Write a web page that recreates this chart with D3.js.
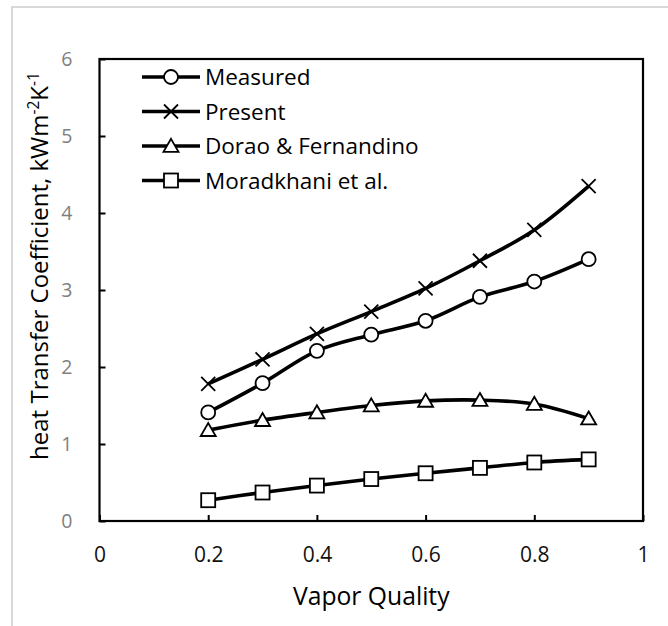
<!DOCTYPE html>
<html>
<head>
<meta charset="utf-8">
<script src="https://cdn.jsdelivr.net/npm/d3@7/dist/d3.min.js"></script>
<style>
  html, body { margin: 0; padding: 0; background: #fff; }
  svg { display: block; font-family: "Open Sans", sans-serif; }
</style>
</head>
<body>
<svg id="chart" width="668" height="626"></svg>
<script>
const quality = [0.2, 0.3, 0.4, 0.5, 0.6, 0.7, 0.8, 0.9];
const measured = [1.41, 1.79, 2.21, 2.42, 2.60, 2.91, 3.11, 3.40];
const present = [1.78, 2.10, 2.43, 2.72, 3.02, 3.38, 3.78, 4.35];
const dorao = [1.18, 1.31, 1.41, 1.50, 1.56, 1.57, 1.52, 1.33];
const moradkhani = [0.27, 0.37, 0.46, 0.545, 0.62, 0.69, 0.76, 0.80];
const seriesNames = ["Measured", "Present", "Dorao & Fernandino", "Moradkhani et al."];
const markerTypes = ["circle", "cross", "triangle", "square"];
const xTicks = [0, 0.2, 0.4, 0.6, 0.8, 1];
const xTickLabels = ["0", "0.2", "0.4", "0.6", "0.8", "1"];
const yTicks = [0, 1, 2, 3, 4, 5, 6];
const yTickLabels = ["0", "1", "2", "3", "4", "5", "6"];

const seriesValues = [measured, present, dorao, moradkhani];

const svg = d3.select("#chart");
const L = 99.5, R = 643, T = 59, B = 521;
const x = d3.scaleLinear().domain([0, 1]).range([L, R]);
const y = d3.scaleLinear().domain([0, 6]).range([B, T]);

// outer chart border
svg.append("rect").attr("x", 12).attr("y", 7).attr("width", 700).attr("height", 700)
  .attr("fill", "none").attr("stroke", "#d9d9d9").attr("stroke-width", 2);

// x axis
const xAxis = svg.append("g").attr("transform", `translate(0,${B})`)
  .call(d3.axisBottom(x).tickValues(xTicks).tickFormat((d, i) => xTickLabels[i]).tickSizeInner(-6).tickSizeOuter(0).tickPadding(26));
xAxis.select(".domain").remove();
xAxis.selectAll("line").attr("stroke", "#000").attr("stroke-width", 2);
xAxis.selectAll("text").attr("font-size", 21).attr("fill", "#111").attr("font-family", "Open Sans");

// y axis
const yAxis = svg.append("g").attr("transform", `translate(${L},0)`)
  .call(d3.axisLeft(y).tickValues(yTicks).tickFormat((d, i) => yTickLabels[i]).tickSizeInner(-6).tickSizeOuter(0).tickPadding(27));
yAxis.select(".domain").remove();
yAxis.selectAll("line").attr("stroke", "#000").attr("stroke-width", 2);
yAxis.selectAll("text").attr("font-size", 19.5).attr("fill", "#808080").attr("font-family", "Open Sans");

// frame
svg.append("rect").attr("x", L).attr("y", T).attr("width", R - L).attr("height", B - T)
  .attr("fill", "none").attr("stroke", "#000").attr("stroke-width", 2.2);

// lines
const line = d3.line().x(d => x(d[0])).y(d => y(d[1])).curve(d3.curveCatmullRom.alpha(0.5));

function drawMarker(g, type, cx, cy) {
  if (type === "circle") {
    g.append("circle").attr("cx", cx).attr("cy", cy).attr("r", 7)
      .attr("fill", "#fff").attr("stroke", "#000").attr("stroke-width", 1.8);
  } else if (type === "cross") {
    const s = 7;
    g.append("path").attr("d", `M${cx - s},${cy - s}L${cx + s},${cy + s}M${cx - s},${cy + s}L${cx + s},${cy - s}`)
      .attr("stroke", "#000").attr("stroke-width", 1.8).attr("fill", "none");
  } else if (type === "triangle") {
    const w = 7.5, h = 13;
    g.append("path").attr("d", `M${cx},${cy - h * 0.55}L${cx + w},${cy + h * 0.45}L${cx - w},${cy + h * 0.45}Z`)
      .attr("fill", "#fff").attr("stroke", "#000").attr("stroke-width", 1.8);
  } else if (type === "square") {
    const s = 7;
    g.append("rect").attr("x", cx - s).attr("y", cy - s).attr("width", 2 * s).attr("height", 2 * s)
      .attr("fill", "#fff").attr("stroke", "#000").attr("stroke-width", 1.8);
  }
}

seriesValues.forEach((vals, si) => {
  const pts = quality.map((q, i) => [q, vals[i]]);
  const g = svg.append("g");
  g.append("path").attr("d", line(pts)).attr("fill", "none").attr("stroke", "#000").attr("stroke-width", 3.6);
  pts.forEach(p => drawMarker(g, markerTypes[si], x(p[0]), y(p[1])));
});

// legend
const legY0 = 77, legDy = 34.5;
seriesNames.forEach((name, i) => {
  const ly = legY0 + i * legDy;
  const g = svg.append("g");
  g.append("line").attr("x1", 142).attr("x2", 200).attr("y1", ly).attr("y2", ly)
    .attr("stroke", "#000").attr("stroke-width", 3.6);
  drawMarker(g, markerTypes[i], 171, ly);
  g.append("text").attr("x", 205).attr("y", ly + 8).attr("font-size", 22.5).attr("fill", "#000").text(name);
});

// axis titles
svg.append("text").attr("x", (L + R) / 2 + 0).attr("y", 605).attr("text-anchor", "middle")
  .attr("font-size", 24.7).attr("fill", "#000").text("Vapor Quality");

const yt = svg.append("text").attr("transform", `translate(48,266) rotate(-90)`)
  .attr("text-anchor", "middle").attr("font-size", 24).attr("fill", "#000");
yt.append("tspan").text("heat Transfer Coefficient, kWm");
yt.append("tspan").attr("font-size", 15.5).attr("dy", -9.5).text("-2");
yt.append("tspan").attr("font-size", 24).attr("dy", 9.5).text("K");
yt.append("tspan").attr("font-size", 15.5).attr("dy", -9.5).text("-1");
</script>
</body>
</html>
